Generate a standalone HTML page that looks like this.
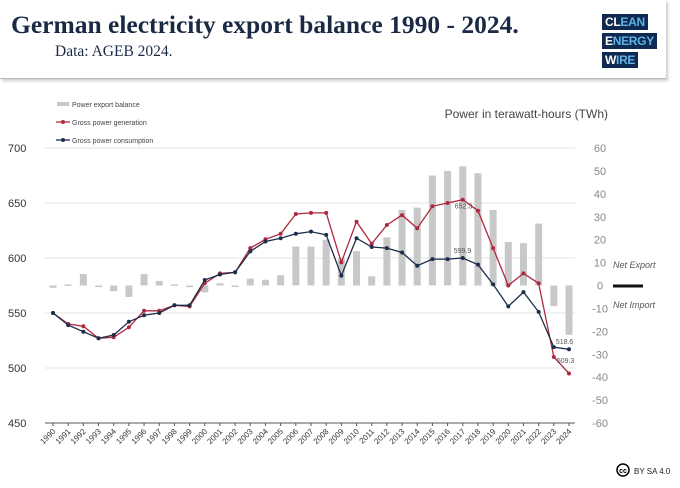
<!DOCTYPE html>
<html><head><meta charset="utf-8"><style>
body{margin:0;width:680px;height:488px;background:#fff;overflow:hidden;font-family:"Liberation Sans",sans-serif;}
#hdr{position:absolute;left:0;top:0;width:666px;height:78px;border-bottom:1px solid #bbb;box-shadow:2px 2px 3px #ccc;}
#title{position:absolute;left:11px;top:10px;font:bold 25.5px "Liberation Serif",serif;color:#1b2a44;white-space:nowrap;}
#sub{position:absolute;left:55px;top:43px;font:15.5px "Liberation Serif",serif;color:#1b2a44;}
.lg{position:absolute;left:602px;background:#0f2a52;color:#fff;font:bold 12px "Liberation Sans",sans-serif;padding:1px 3px;letter-spacing:-0.3px}
.lg span{color:#5fb4e6}
</style></head><body>
<div id="hdr">
<div id="title">German electricity export balance 1990 - 2024.</div>
<div id="sub">Data: AGEB 2024.</div>
<div class="lg" style="top:14px">CL<span>EAN</span></div>
<div class="lg" style="top:33px">E<span>NERGY</span></div>
<div class="lg" style="top:52px">W<span>IRE</span></div>
</div>
<svg id="chart" width="680" height="488" style="position:absolute;left:0;top:0"></svg>
<script>
const years=[];for(let y=1990;y<=2024;y++)years.push(y);
const generation=[550,540,538,527,528,537,552,552,557,556,577,586,587,609,617,622,640,641,641,596,633,613,630,639,627,647,650,653,643,609,575,586,577,510,495];
const consumption=[550,539,533,527,530,542,548,550,557,557,580,585,587,606,615,618,622,624,621,584,618,610,609,605,593,599,599,600,594,576,556,569,551,519,517];
const exportBalance=[-1,0.5,5,-0.7,-2.5,-5,5,2,0.5,-0.7,-3,1,-0.5,3,2.5,4.5,17,17,20,12,15,4,21,33,34,48,50,52,49,33,19,18.5,27,-9,-21.5];
const leftTicks=[700,650,600,550,500,450];
const rightTicks=[60,50,40,30,20,10,0,-10,-20,-30,-40,-50,-60];
const svg=document.getElementById('chart');const NS='http://www.w3.org/2000/svg';
function mk(t,a,p){const e=document.createElementNS(NS,t);for(const k in a)e.setAttribute(k,a[k]);(p||svg).appendChild(e);return e;}
const x=i=>53+i*(569-53)/(years.length-1);
const yL=v=>148+(700-v)*275/250;
const yR=v=>148+(60-v)*275/120;
leftTicks.forEach(t=>{
 if(t>450){const g=mk('line',{x1:45,x2:575,y1:yL(t),y2:yL(t),stroke:'#e3e3e3','stroke-width':1});}
 const l=mk('text',{x:8,y:yL(t)+4,'font-size':11,fill:'#333'});l.textContent=t;
 
});
rightTicks.forEach(t=>{const l=mk('text',{x:600,y:yR(t)+4,'font-size':11,fill:'#888','text-anchor':'middle'});l.textContent=t;
 });
const ax=mk('line',{x1:45,x2:575,y1:423,y2:423,stroke:'#555','stroke-width':1});

exportBalance.forEach((v,i)=>{const y0=yR(0),y1=yR(v);
 const b=mk('rect',{x:x(i)-3.5,width:7,y:Math.min(y0,y1),height:Math.max(1.5,Math.abs(y1-y0)),fill:'#c8c8c8'});
 });
years.forEach((yr,i)=>{const tk=mk('line',{x1:x(i),x2:x(i),y1:423,y2:426,stroke:'#555'});
 
 const l=mk('text',{x:x(i)+3,y:432,'font-size':8,fill:'#333','text-anchor':'end',transform:`rotate(-45 ${x(i)+3} 432)`});l.textContent=yr;
 });
function series(d,c,name){const p=mk('polyline',{points:d.map((v,i)=>x(i)+','+yL(v)).join(' '),fill:'none',stroke:c,'stroke-width':1.3});
 
 d.forEach((v,i)=>{const m=mk('circle',{cx:x(i),cy:yL(v),r:2,fill:c});});}
series(generation,'#b0283f','generation');
series(consumption,'#1c2e4a','consumption');
function lbl(t,xx,yy){const l=mk('text',{x:xx,y:yy,'font-size':7,fill:'#555'});l.textContent=t;}
lbl('652.3',x(27)-8,yL(generation[27])+9);lbl('599.9',x(27)-9,yL(consumption[27])-5);
lbl('518.6',x(33)+2,yL(consumption[33])-3);lbl('509.3',x(33)+3,yL(generation[33])+6);
const leg=[['Power export balance','bar'],['Gross power generation','#b0283f'],['Gross power consumption','#1c2e4a']];
leg.forEach((e,i)=>{const y=104+i*18;
 if(e[1]=='bar')mk('rect',{x:57,y:y-2,width:12,height:4,fill:'#c8c8c8'});
 else{mk('line',{x1:56,x2:70,y1:y,y2:y,stroke:e[1],'stroke-width':1.3});mk('circle',{cx:63,cy:y,r:2,fill:e[1]});}
 const t=mk('text',{x:72,y:y+3,'font-size':7,fill:'#444'});t.textContent=e[0];
 });
const at=mk('text',{x:608,y:118,'font-size':12,fill:'#444','text-anchor':'end'});at.textContent='Power in terawatt-hours (TWh)';

const ne=mk('text',{x:613,y:268,'font-size':9,fill:'#555','font-style':'italic'});ne.textContent='Net Export';

const ni=mk('text',{x:613,y:308,'font-size':9,fill:'#555','font-style':'italic'});ni.textContent='Net Import';

mk('line',{x1:613,x2:643,y1:286,y2:286,stroke:'#111','stroke-width':3});
mk('circle',{cx:623,cy:470,r:6,fill:'none',stroke:'#000','stroke-width':1.5});
const cc=mk('text',{x:623,y:473,'font-size':7,'font-weight':'bold','text-anchor':'middle'});cc.textContent='cc';
const lic=mk('text',{x:634,y:474,'font-size':8,fill:'#222'});lic.textContent='BY SA 4.0';

</script>
</body></html>
